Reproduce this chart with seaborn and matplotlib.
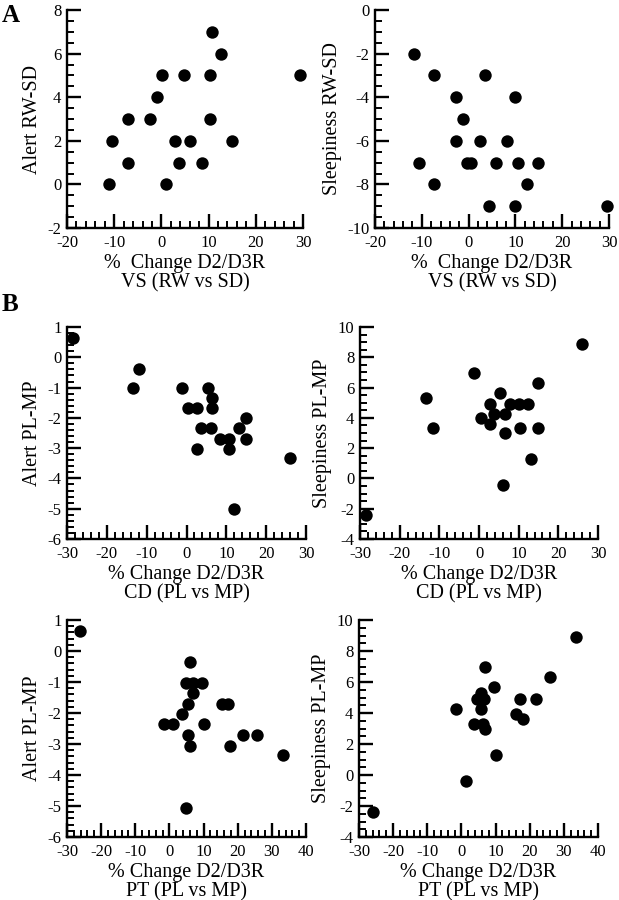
# -*- coding: utf-8 -*-
import matplotlib as mpl
mpl.use('Agg')
import matplotlib.pyplot as plt
from matplotlib.ticker import MultipleLocator
import seaborn as sns
import pandas as pd

##### DATA #####
# A: VS (RW vs SD)
vs_alert_x = [-11.2, -10.4, -7.0, -7.0, -2.4, -1.0, 0.1, 1.0, 2.8, 3.7,
              4.7, 6.1, 8.5, 10.3, 10.3, 10.7, 12.7, 15.0, 29.4]
vs_alert_y = [0, 2, 1, 3, 3, 4, 5, 0, 2, 1, 5, 2, 1, 3, 5, 7, 6, 2, 5]

vs_sleep_x = [-11.7, -7.4, 3.4, -2.7, 10.0, -1.3, -2.7, 2.4, 8.1, -10.7,
              -0.4, 0.6, 5.8, 10.6, 14.9, -7.4, 12.5, 4.3, 10.0, 29.5]
vs_sleep_y = [-2, -3, -3, -4, -4, -5, -6, -6, -6, -7,
              -7, -7, -7, -7, -7, -8, -8, -9, -9, -9]

# B: CD (PL vs MP)
cd_alert_x = [-28.5, -11.8, -13.4, -1.1, 5.5, 6.5, 0.4, 2.6, 6.5, 14.9,
              3.6, 6.2, 13.3, 8.3, 10.7, 14.9, 2.6, 10.7, 26.1, 12.0]
cd_alert_y = [0.63, -0.39, -1.02, -1.02, -1.02, -1.34, -1.67, -1.67, -1.67, -1.99,
              -2.32, -2.32, -2.32, -2.69, -2.69, -2.69, -3.02, -3.02, -3.34, -5.0]

cd_sleep_x = [26.0, -1.2, 14.9, -13.25, 5.4, 2.7, 7.9, 10.2, 12.25, 3.75,
              6.6, 0.4, 2.7, -11.7, 10.4, 14.9, 6.5, 13.2, 6.0, -28.5]
cd_sleep_y = [8.91, 6.96, 6.3, 5.31, 5.67, 4.89, 4.89, 4.89, 4.89, 4.25,
              4.25, 4.0, 3.61, 3.36, 3.36, 3.36, 2.98, 1.28, -0.41, -2.4]

# B: PT (PL vs MP)
pt_alert_x = [-26.3, 6.1, 4.9, 6.9, 9.5, 6.9, 5.4, 15.4, 17.3, 3.7,
              -1.7, 1.0, 10.0, 5.4, 21.5, 25.6, 6.1, 17.8, 33.4, 4.8]
pt_alert_y = [0.66, -0.37, -1.04, -1.04, -1.04, -1.36, -1.70, -1.70, -1.70, -2.02,
              -2.34, -2.34, -2.34, -2.71, -2.71, -2.71, -3.05, -3.05, -3.36, -5.05]

pt_sleep_x = [33.6, 6.8, 25.8, 9.5, 5.6, 4.6, 6.5, 17.3, 21.9, -1.5,
              5.6, 16.0, 18.0, 3.6, 6.2, 7.0, 10.1, 1.2, -25.9]
pt_sleep_y = [8.91, 6.98, 6.30, 5.66, 5.32, 4.89, 4.89, 4.89, 4.89, 4.26,
              4.26, 3.96, 3.60, 3.32, 3.32, 2.94, 1.28, -0.40, -2.36]
#####

##### STYLE #####
sns.set_style('ticks')
plt.rcParams['font.family'] = ['Liberation Serif', 'DejaVu Serif']
plt.rcParams['axes.unicode_minus'] = False
plt.rcParams['axes.linewidth'] = 1.7
plt.rcParams['axes.edgecolor'] = 'black'
plt.rcParams['text.color'] = 'black'
plt.rcParams['axes.labelcolor'] = 'black'
plt.rcParams['xtick.color'] = 'black'
plt.rcParams['ytick.color'] = 'black'
#####

fig = plt.figure(figsize=(6.19, 9.00), dpi=100)

W, H = 619., 900.


def panel(x0, x1, ytop, ybot, x, y, xlim, ylim, xmaj, xmin, ymaj, ymin, xlab, ylab):
    ax = fig.add_axes([x0 / W, 1 - ybot / H, (x1 - x0) / W, (ybot - ytop) / H])
    df = pd.DataFrame({'x': x, 'y': y})
    sns.scatterplot(data=df, x='x', y='y', ax=ax, color='black', s=80,
                    edgecolor='black', linewidth=0, clip_on=False, zorder=3)
    ax.set_xlim(xlim)
    ax.set_ylim(ylim)
    ax.xaxis.set_major_locator(MultipleLocator(xmaj))
    ax.xaxis.set_minor_locator(MultipleLocator(xmin))
    ax.yaxis.set_major_locator(MultipleLocator(ymaj))
    ax.yaxis.set_minor_locator(MultipleLocator(ymin))
    ax.tick_params(which='major', direction='in', length=10, width=1.7,
                   color='black', labelsize=12)
    ax.tick_params(axis='x', which='major', pad=5)
    ax.tick_params(axis='y', which='major', pad=4)
    ax.tick_params(which='minor', direction='in', length=5, width=1.4,
                   color='black')
    ax.set_xlabel(xlab, fontsize=14.5, labelpad=2, linespacing=1.05)
    ax.set_ylabel(ylab, fontsize=14.5, labelpad=4)
    sns.despine(ax=ax)
    return ax


panel(67, 303, 10, 228, vs_alert_x, vs_alert_y, (-20, 30), (-2, 8), 10, 2, 2, 0.5,
      '%  Change D2/D3R\nVS (RW vs SD)', 'Alert RW-SD')
panel(375, 609, 10, 228, vs_sleep_x, vs_sleep_y, (-20, 30), (-10, 0), 10, 2, 2, 0.5,
      '%  Change D2/D3R\nVS (RW vs SD)', 'Sleepiness RW-SD')

panel(67, 306, 327, 539, cd_alert_x, cd_alert_y, (-30, 30), (-6, 1), 10, 2, 1, 0.2,
      '% Change D2/D3R\nCD (PL vs MP)', 'Alert PL-MP')
panel(360, 598, 327, 539, cd_sleep_x, cd_sleep_y, (-30, 30), (-4, 10), 10, 2, 2, 0.5,
      '% Change D2/D3R\nCD (PL vs MP)', 'Sleepiness PL-MP')

panel(67, 306, 620, 837, pt_alert_x, pt_alert_y, (-30, 40), (-6, 1), 10, 2, 1, 0.2,
      '% Change D2/D3R\nPT (PL vs MP)', 'Alert PL-MP')
panel(359, 598, 620, 837, pt_sleep_x, pt_sleep_y, (-30, 40), (-4, 10), 10, 2, 2, 0.5,
      '% Change D2/D3R\nPT (PL vs MP)', 'Sleepiness PL-MP')

fig.text(2 / W, 1 - 4 / H, 'A', fontsize=18, fontweight='bold', va='top', ha='left')
fig.text(2 / W, 1 - 293 / H, 'B', fontsize=18, fontweight='bold', va='top', ha='left')

plt.savefig('out.png', dpi=100)
